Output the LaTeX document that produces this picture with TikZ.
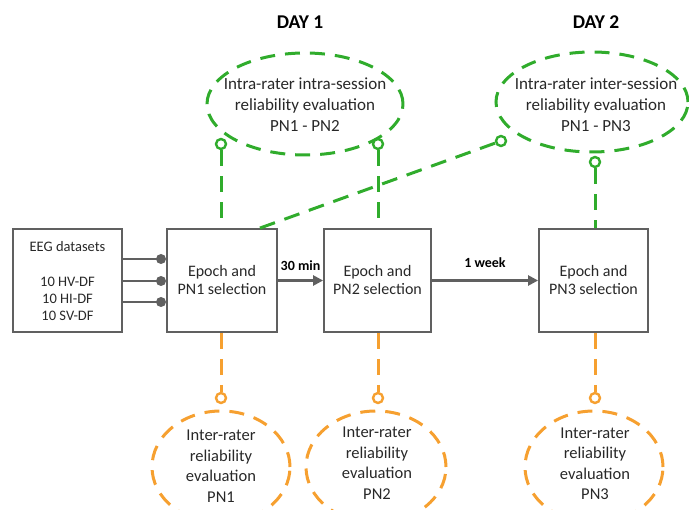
\documentclass[tikz,border=0pt]{standalone}
\usepackage{fontspec}
\setmainfont{Carlito}
\usetikzlibrary{shapes.geometric,arrows.meta}
\definecolor{grn}{RGB}{48,172,44}
\definecolor{org}{RGB}{246,160,48}
\definecolor{gry}{RGB}{96,96,96}
\definecolor{txt}{RGB}{40,40,40}
\begin{document}
\begin{tikzpicture}[x=1pt,y=-1pt,
  box/.style={draw=gry,line width=1.8pt,minimum width=#1,minimum height=103pt,inner sep=0pt,align=center,text=txt,font=\fontsize{16}{18}\selectfont},
  ellg/.style={ellipse,draw=grn,line width=3pt,dash pattern=on 15pt off 10pt,inner sep=0pt},
  ello/.style={ellipse,draw=org,line width=3pt,dash pattern=on 15pt off 10pt,inner sep=0pt},
  gtext/.style={align=center,text=txt,font=\fontsize{17}{21}\selectfont},
  otext/.style={align=center,text=txt,font=\fontsize{16.5}{20.5}\selectfont},
  eegtext/.style={align=center,text=txt,font=\fontsize{14.5}{17}\selectfont},
  gcirc/.style={circle,draw=grn,line width=2.4pt,fill=white,minimum size=10pt,inner sep=0pt},
  ocirc/.style={circle,draw=org,line width=2.4pt,fill=white,minimum size=10pt,inner sep=0pt},
  gdash/.style={draw=grn,line width=3pt,dash pattern=on 16pt off 10pt},
  odash/.style={draw=org,line width=3pt,dash pattern=on 16pt off 10pt},
  conn/.style={draw=gry,line width=2.4pt},
  dot/.style={circle,fill=gry,minimum size=10pt,inner sep=0pt},
  title/.style={font=\fontsize{19.5}{22}\selectfont\bfseries,text=black},
  lab/.style={font=\fontsize{14}{15}\selectfont\bfseries,text=black}
]
\useasboundingbox (0,0) rectangle (689,510);

% titles
\node[title] (day1) at (300,22) {DAY 1};
\node[title] (day2) at (596,22) {DAY 2};

% boxes
\node[box=109pt] (eeg) at (67.5,280.5) {};
\node[eegtext] (eegt) at (67.5,247) {EEG datasets};
\node[eegtext] (eegl) at (67.5,299) {10 HV-DF\\10 HI-DF\\10 SV-DF};
\node[box=110pt] (b1) at (222,280.5) {Epoch and\\PN1 selection};
\node[box=107pt] (b2) at (377.5,280.5) {Epoch and\\PN2 selection};
\node[box=109pt] (b3) at (593.5,280.5) {Epoch and\\PN3 selection};

% EEG connectors with dots
\foreach \yy/\nm in {259/d1,281/d2,302/d3}{
  \node[dot] (\nm) at (161,\yy) {};
  \draw[conn] (eeg.east |- \nm) -- (\nm.center);
}

% timeline arrows
\draw[conn,-{Triangle[length=10pt,width=10pt]}] (b1.east) -- (b2.west) node[lab,midway,above=5pt] {30 min};
\draw[conn,-{Triangle[length=10pt,width=10pt]}] (b2.east) -- (b3.west) node[lab,midway,above=8pt] {1 week};

% green ellipses
\node[ellg,minimum width=196pt,minimum height=102pt] (g1) at (305,104) {};
\node[gtext] (g1t) at (305,105) {Intra-rater intra-session\\reliability evaluation\\PN1 - PN2};
\node[ellg,minimum width=192pt,minimum height=100pt] (g2) at (592,102) {};
\node[gtext] (g2t) at (596,105) {Intra-rater inter-session\\reliability evaluation\\PN1 - PN3};

% orange ellipses
\node[ello,minimum width=138pt,minimum height=112pt] (o1) at (221,467) {};
\node[otext] (o1t) at (221,466) {Inter-rater\\reliability\\evaluation\\PN1};
\node[ello,minimum width=140pt,minimum height=112pt] (o2) at (376,467) {};
\node[otext] (o2t) at (377,463) {Inter-rater\\reliability\\evaluation\\PN2};
\node[ello,minimum width=138pt,minimum height=112pt] (o3) at (594,467) {};
\node[otext] (o3t) at (595,464) {Inter-rater\\reliability\\evaluation\\PN3};

% green connectors
\node[gcirc] (c1) at (221,144) {};
\node[gcirc] (c2) at (378,144) {};
\node[gcirc] (c3) at (501,141) {};
\node[gcirc] (c4) at (595,162) {};
\draw[gdash] (c1.south) -- (c1.south |- b1.north);
\draw[gdash] (c2.south) -- (c2.south |- b2.north);
\draw[gdash] (c4.south) -- (c4.south |- b3.north);
\coordinate (b1d) at ([xshift=-18pt]b1.north east);
\draw[gdash] (b1d) -- (c3);

% orange connectors
\node[ocirc] (p1) at (221,398) {};
\node[ocirc] (p2) at (378,398) {};
\node[ocirc] (p3) at (595,398) {};
\draw[odash] (p1.north |- b1.south) -- (p1.north);
\draw[odash] (p2.north |- b2.south) -- (p2.north);
\draw[odash] (p3.north |- b3.south) -- (p3.north);
\end{tikzpicture}
\end{document}
